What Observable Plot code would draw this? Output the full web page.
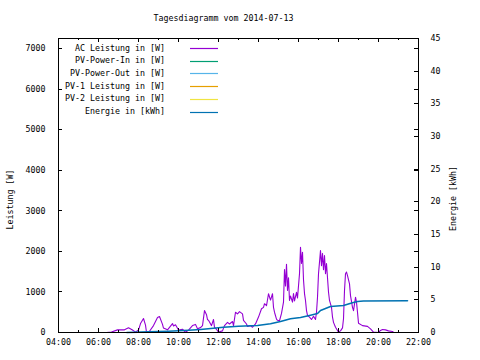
<!DOCTYPE html>
<html><head><meta charset="utf-8">
<script src="https://cdn.jsdelivr.net/npm/d3@7"></script>
<script src="https://cdn.jsdelivr.net/npm/@observablehq/plot@0.6"></script>
<style>body{margin:0;background:#fff} svg{display:block}</style>
</head><body><div id="chart"></div>
<script>
// ---- data ----
const chartTitle = "Tagesdiagramm vom 2014-07-13";
const acTimes = ["06:24","06:39","06:57","07:18","07:30","07:42","07:51","08:00","08:06","08:15","08:21","08:24","08:33","08:45","08:57","09:03","09:12","09:15","09:27","09:42","09:45","09:51","10:00","10:12","10:21","10:30","10:42","10:51","10:57","11:06","11:12","11:18","11:24","11:27","11:30","11:39","11:45","11:48","11:54","12:00","12:12","12:18","12:27","12:33","12:42","12:45","12:51","12:57","13:03","13:12","13:15","13:24","13:27","13:36","13:42","13:51","14:00","14:09","14:15","14:18","14:24","14:30","14:36","14:42","14:45","14:48","14:54","14:57","15:03","15:09","15:15","15:18","15:21","15:24","15:27","15:30","15:33","15:36","15:42","15:45","15:48","15:54","15:57","16:03","16:06","16:09","16:12","16:15","16:18","16:21","16:24","16:27","16:33","16:39","16:45","16:51","16:54","16:57","17:00","17:06","17:09","17:12","17:15","17:18","17:21","17:24","17:27","17:30","17:33","17:39","17:42","17:45","17:51","17:57","18:00","18:06","18:12","18:15","18:18","18:21","18:24","18:27","18:33","18:36","18:42","18:45","18:48","18:51","18:54","18:57","19:00","19:12","19:27","19:36","19:45","20:00","20:06","20:12","20:21","20:30","20:42","20:45","20:57"];
const acWatts = [0,10,65,65,115,60,10,60,220,345,180,5,30,170,370,395,200,110,65,220,160,190,60,80,5,60,170,200,90,120,170,540,440,320,300,170,320,125,80,10,40,170,250,210,270,170,500,460,515,460,300,210,150,170,130,210,380,585,620,710,660,955,800,955,620,500,330,300,290,470,750,1550,1150,1680,1035,1350,790,900,750,960,780,990,850,1450,2100,1700,1980,1300,960,790,540,420,380,320,400,320,500,870,1450,2020,1650,1950,1550,1900,1450,1700,1350,1000,790,620,380,250,130,50,10,40,115,340,1035,1450,1490,1400,1200,910,620,540,700,870,750,500,230,170,150,90,10,0,50,75,65,40,25,0,0];
const energyTimes = ["07:25","08:30","09:30","10:30","11:06","12:15","13:00","13:57","14:36","15:06","15:36","16:06","16:36","16:57","17:06","17:36","18:15","18:42","18:57","19:15","21:27"];
const energyKWh = [0,0.1,0.2,0.35,0.45,0.8,0.95,1.07,1.33,1.68,2.1,2.3,2.65,2.9,3.37,3.98,4.13,4.55,4.75,4.83,4.85];
const seriesNames = ["AC Leistung in [W]","PV-Power-In in [W]","PV-Power-Out in [W]","PV-1 Leistung in [W]","PV-2 Leistung in [W]","Energie in [kWh]"];
const seriesColors = ["#9400d3","#009e73","#56b4e9","#e69f00","#f0e442","#0072b2"];
const xMajorHours = [4,6,8,10,12,14,16,18,20,22];
const xMinorHours = [5,7,9,11,13,15,17,19,21];
const leftTicks = [0,1000,2000,3000,4000,5000,6000,7000];
const rightTicks = [0,5,10,15,20,25,30,35,40,45];
const yLabel = "Leistung [W]";
const y2Label = "Energie [kWh]";

const yMax = 7250, y2Max = 45, k = yMax / y2Max;
const toH = s => { const [h, m] = s.split(":").map(Number); return h + m / 60; };
const ac = acTimes.map((t, i) => ({h: toH(t), v: acWatts[i]}));
const energy = energyTimes.map((t, i) => ({h: toH(t), v: energyKWh[i] * k}));
const fmtH = h => String(h).padStart(2, "0") + ":00";

const W = 480, H = 360, mL = 58, mR = 62, mT = 38, mB = 28;
const pw = W - mL - mR, ph = H - mT - mB;
const font = "DejaVu Sans Mono";
const crisp = {shapeRendering: "crispEdges"};

function legendMark(index, scales, values, dims) {
  const g = d3.create("svg:g");
  seriesNames.forEach((n, i) => {
    const y = mT + 10 + i * 12.7;
    g.append("text").attr("x", 165).attr("y", y).attr("dy", "0.32em")
      .attr("text-anchor", "end").attr("fill", "#000").text(n);
    g.append("line").attr("x1", 190).attr("x2", 218).attr("y1", Math.round(y) + 0.5).attr("y2", Math.round(y) + 0.5)
      .attr("stroke", seriesColors[i]).attr("stroke-width", 1.2);
  });
  return g.node();
}

const chart = Plot.plot({
  width: W, height: H,
  marginLeft: mL, marginRight: mR, marginTop: mT, marginBottom: mB,
  x: {domain: [4, 22]},
  y: {domain: [0, yMax]},
  style: {fontFamily: font, fontSize: "8.3px", background: "#fff", color: "#000"},
  marks: [
    Plot.line(ac, {x: "h", y: "v", stroke: seriesColors[0], strokeWidth: 1.1}),
    Plot.line(energy, {x: "h", y: "v", stroke: seriesColors[5], strokeWidth: 1.6}),
    Plot.frame({stroke: "#000", ...crisp}),
    // inward ticks
    Plot.ruleY(leftTicks, {insetRight: pw - 4, stroke: "#000", ...crisp}),
    Plot.ruleY(leftTicks, {insetLeft: pw - 4, stroke: "#000", ...crisp}),
    Plot.ruleY(rightTicks.map(v => v * k), {insetLeft: pw - 4, stroke: "#000", ...crisp}),
    Plot.ruleX(xMajorHours, {insetTop: ph - 4, stroke: "#000", ...crisp}),
    Plot.ruleX(xMinorHours, {insetTop: ph - 2, stroke: "#000", ...crisp}),
    Plot.ruleX(xMajorHours, {insetBottom: ph - 4, stroke: "#000", ...crisp}),
    Plot.ruleX(xMinorHours, {insetBottom: ph - 2, stroke: "#000", ...crisp}),
    Plot.axisX(xMajorHours, {tickSize: 0, tickPadding: 7, tickFormat: fmtH, label: null}),
    Plot.axisY(leftTicks, {tickSize: 0, tickPadding: 13, tickFormat: d => String(d), label: null}),
    Plot.axisY(rightTicks.map(v => v * k), {anchor: "right", tickSize: 0, tickPadding: 12, tickFormat: d => String(Math.round(d / k)), label: null}),
    Plot.text([yLabel], {frameAnchor: "left", textAnchor: "middle", lineAnchor: "middle", rotate: -90, dx: -48, dy: 14}),
    Plot.text([y2Label], {frameAnchor: "right", textAnchor: "middle", lineAnchor: "middle", rotate: -90, dx: 35, dy: 13}),
    Plot.text([chartTitle], {frameAnchor: "top", textAnchor: "middle", lineAnchor: "middle", dx: -15, dy: -20}),
    legendMark
  ]
});
document.getElementById("chart").appendChild(chart);
</script>
</body></html>
